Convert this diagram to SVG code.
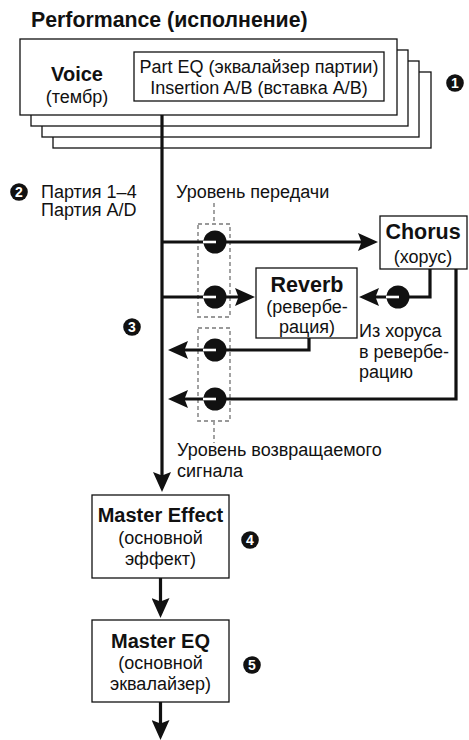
<svg xmlns="http://www.w3.org/2000/svg" width="469" height="740" viewBox="0 0 469 740">
  <style>
    text { font-family: "Liberation Sans", Arial, sans-serif; fill: #111; }
    .title { font-size: 21.3px; font-weight: bold; }
    .b { font-size: 20px; font-weight: bold; text-anchor: middle; }
    .bl { font-size: 21.5px; }
    .r { font-size: 18px; text-anchor: middle; }
    .l { font-size: 18px; }
    .box { fill: #fff; stroke: #111; stroke-width: 1.3; }
    .wire { fill: none; stroke: #111; stroke-width: 3.2; }
    .dash { fill: none; stroke: #999; stroke-width: 1.8; stroke-dasharray: 4 3; }
    .knob { fill: #111; }
    .tick { stroke: #fff; stroke-width: 2.6; }
    .badge circle { fill: #111; }
    .badge text { fill: #fff; font-size: 14px; font-weight: bold; text-anchor: middle; }
  </style>
  <defs>
    <marker id="arr" viewBox="0 0 20 18" refX="9" refY="9" markerWidth="20" markerHeight="18" markerUnits="userSpaceOnUse" orient="auto">
      <path d="M0,0 L20,9 L0,18 L3.5,9 z" fill="#111"/>
    </marker>
    <g id="knob">
      <circle r="11.5" class="knob"/>
      <line x1="-12" y1="0" x2="1" y2="0" class="tick"/>
    </g>
  </defs>

  <text class="title" x="31" y="27">Performance (исполнение)</text>

  <!-- stacked performance parts -->
  <g id="parts">
    <rect class="box" x="53" y="72" width="378" height="76"/>
    <rect class="box" x="42" y="61" width="377" height="76"/>
    <rect class="box" x="31" y="50" width="377" height="76"/>
    <rect class="box" x="20" y="39" width="377" height="76"/>
  </g>

  <g id="voice">
    <text class="b" x="77" y="81">Voice</text>
    <text class="r" x="77" y="103">(тембр)</text>
  </g>

  <g id="part-eq">
    <rect class="box" x="134" y="52" width="250" height="49"/>
    <text class="r" x="259" y="73">Part EQ (эквалайзер партии)</text>
    <text class="r" x="259" y="94">Insertion A/B (вставка A/B)</text>
  </g>

  <g id="chorus">
    <rect class="box" x="380" y="216" width="87" height="53"/>
    <text class="b bl" x="423" y="239">Chorus</text>
    <text class="r" x="423" y="263">(хорус)</text>
  </g>

  <g id="reverb">
    <rect class="box" x="256" y="268" width="101" height="70"/>
    <text class="b bl" x="307" y="292">Reverb</text>
    <text class="r" x="307" y="313">(ревербе-</text>
    <text class="r" x="307" y="333">рация)</text>
  </g>

  <g id="master-effect">
    <rect class="box" x="92" y="495" width="137" height="83"/>
    <text class="b" x="160.5" y="522">Master Effect</text>
    <text class="r" x="160.5" y="544">(основной</text>
    <text class="r" x="160.5" y="565">эффект)</text>
  </g>

  <g id="master-eq">
    <rect class="box" x="92" y="620" width="137" height="82"/>
    <text class="b" x="160.5" y="648">Master EQ</text>
    <text class="r" x="160.5" y="669">(основной</text>
    <text class="r" x="160.5" y="690">эквалайзер)</text>
  </g>

  <!-- send / return level frames -->
  <g id="levels">
    <line class="dash" x1="214" y1="203" x2="214" y2="224"/>
    <rect class="dash" x="198" y="224" width="32" height="93"/>
    <rect class="dash" x="198" y="328" width="32" height="93"/>
    <line class="dash" x1="214" y1="421" x2="214" y2="443"/>
  </g>

  <g id="connectors">
    <path class="wire" d="M162,115 V481" marker-end="url(#arr)"/>
    <path class="wire" d="M162,242 H367" marker-end="url(#arr)"/>
    <path class="wire" d="M162,297 H244" marker-end="url(#arr)"/>
    <path class="wire" d="M309,338 V350 H179" marker-end="url(#arr)"/>
    <path class="wire" d="M456,269 V399 H179" marker-end="url(#arr)"/>
    <path class="wire" d="M430,269 V297 H370" marker-end="url(#arr)"/>
    <path class="wire" d="M160.5,578 V607" marker-end="url(#arr)"/>
    <path class="wire" d="M160.5,702 V729" marker-end="url(#arr)"/>
  </g>

  <g id="knobs">
    <use href="#knob" x="215" y="242"/>
    <use href="#knob" x="215" y="297"/>
    <use href="#knob" x="215" y="350"/>
    <use href="#knob" x="215" y="399"/>
    <use href="#knob" x="398" y="297"/>
  </g>

  <g id="labels">
    <text class="l" x="41" y="198">Партия 1–4</text>
    <text class="l" x="41" y="216">Партия A/D</text>
    <text class="l" x="176" y="198">Уровень передачи</text>
    <text class="l" x="359" y="337">Из хоруса</text>
    <text class="l" x="359" y="358">в ревербе-</text>
    <text class="l" x="359" y="378">рацию</text>
    <text class="l" x="177" y="456">Уровень возвращаемого</text>
    <text class="l" x="177" y="477">сигнала</text>
  </g>

  <g id="badges">
    <g class="badge"><circle cx="455" cy="83" r="8.8"/><text x="455" y="88">1</text></g>
    <g class="badge"><circle cx="19" cy="192" r="8.8"/><text x="19" y="197">2</text></g>
    <g class="badge"><circle cx="132" cy="327" r="8.8"/><text x="132" y="332">3</text></g>
    <g class="badge"><circle cx="250" cy="540" r="8.8"/><text x="250" y="545">4</text></g>
    <g class="badge"><circle cx="252" cy="665" r="8.8"/><text x="252" y="670">5</text></g>
  </g>
</svg>
